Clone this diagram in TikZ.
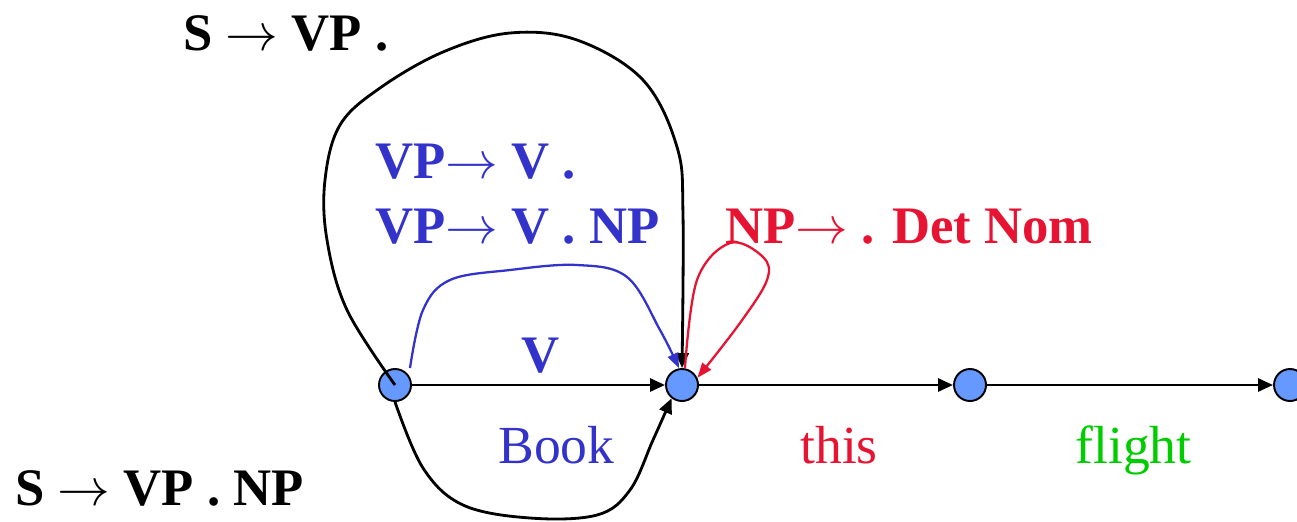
\RequirePackage{fix-cm}
\documentclass[tikz,border=0pt]{standalone}
\usepackage{fontspec}
\setmainfont{Liberation Serif}
\usetikzlibrary{arrows.meta}
\definecolor{cblue}{RGB}{51,51,204}
\definecolor{cred}{RGB}{230,20,50}
\definecolor{cgreen}{RGB}{0,204,0}
\definecolor{cfill}{RGB}{102,153,255}
\newcommand{\ar}{$\rightarrow$}
\begin{document}
\begin{tikzpicture}[x=0.02cm,y=-0.02cm,
  state/.style={circle,draw=black,line width=1.1pt,fill=cfill,minimum size=0.64cm,inner sep=0pt},
  lbl/.style={font=\fontsize{30}{30}\selectfont\bfseries,inner sep=0pt,anchor=base west},
  wrd/.style={font=\fontsize{30.5}{30}\selectfont,inner sep=0pt,anchor=base west},
  edge/.style={line width=1.6pt,-{Triangle[length=0.3cm,width=0.26cm]}},
  cedge/.style={line width=1.3pt,-{Triangle[length=0.3cm,width=0.22cm]}}]
\useasboundingbox (0,0) rectangle (1297,521);
\node[state] (n1) at (395,385) {};
\node[state] (n2) at (682,385) {};
\node[state] (n3) at (970,385) {};
\node[state] (n4) at (1290,385) {};
\draw[edge] (n1) -- (n2);
\draw[edge] (n2) -- (n3);
\draw[edge] (n3) -- (n4);
% top black curve
\draw[edge] plot[smooth,tension=0.6] coordinates {(n1.center) (347,310) (327,240) (325,180) (340,125) (380,88) (443,52) (510,33) (577,40) (643,80) (677,147) (683,215) (n2.north)};
% bottom black curve
\draw[edge] plot[smooth,tension=0.6] coordinates {(n1.south) (423,468) (463,505) (530,518) (597,515) (630,490) (653,440) (n2.232)};
% blue curve
\coordinate (b0) at (410,368);
\draw[cedge,draw=cblue] plot[smooth,tension=0.6] coordinates {(b0) (423,310) (450,280) (510,270) (577,265) (627,277) (660,330) (n2.100)};
% red loop
\draw[cedge,draw=cred] plot[smooth,tension=0.6] coordinates {(n2.80) (697,280) (730,243) (763,257) (767,280) (740,323) (n2.25)};
% labels
\node[lbl] (l1) at (183,50) {S \ar{} VP .};
\node[lbl,text=cblue] (l2) at (375,178) {VP\ar{} V .};
\node[lbl,text=cblue] (l3) at (375,243) {VP\ar{} V . NP};
\node[lbl,text=cred] (l4) at (725,243) {NP\ar{} . Det Nom};
\node[lbl,text=cblue,anchor=base] (l5) at (541,372) {V};
\node[wrd,text=cblue] (w1) at (498,463) {Book};
\node[wrd,text=cred] (w2) at (800,463) {this};
\node[wrd,text=cgreen] (w3) at (1075,463) {flight};
\node[lbl] (l6) at (15,505) {S \ar{} VP . NP};
\end{tikzpicture}
\end{document}
